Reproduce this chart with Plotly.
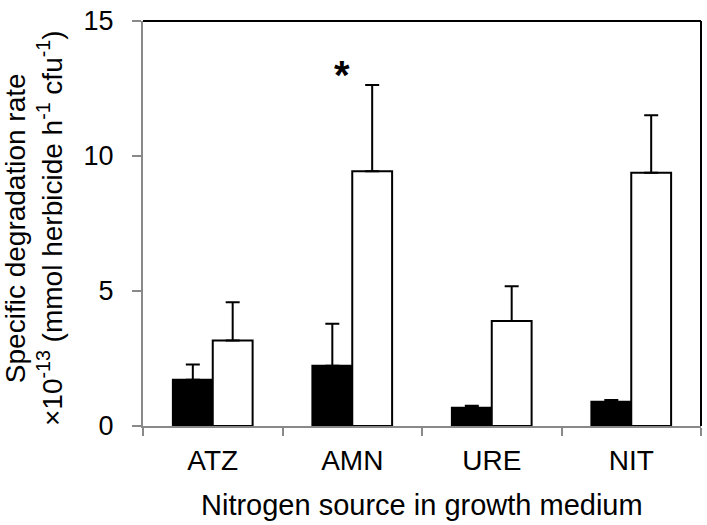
import plotly.graph_objects as go

categories = ["ATZ", "AMN", "URE", "NIT"]
black_vals = [1.71, 2.23, 0.68, 0.90]
black_err = [0.57, 1.56, 0.07, 0.06]
white_vals = [3.17, 9.44, 3.89, 9.38]
white_err = [1.41, 3.19, 1.29, 2.13]
y_ticks = [0, 5, 10, 15]

FONT = "Arial, Liberation Sans, sans-serif"
GRAY = "#898989"

fig = go.Figure()
fig.add_trace(go.Bar(
    x=categories, y=black_vals, name="black",
    marker=dict(color="black", line=dict(color="black", width=2)),
    error_y=dict(type="data", array=black_err, arrayminus=[0]*4, symmetric=False,
                 color="black", thickness=2, width=7),
))
fig.add_trace(go.Bar(
    x=categories, y=white_vals, name="white",
    marker=dict(color="white", line=dict(color="black", width=2)),
    error_y=dict(type="data", array=white_err, arrayminus=[0]*4, symmetric=False,
                 color="black", thickness=2, width=7),
))

fig.update_layout(
    width=707, height=525,
    margin=dict(l=143, r=6, t=14, b=99),
    paper_bgcolor="white", plot_bgcolor="white",
    barmode="group", bargap=0.4286, bargroupgap=0,
    showlegend=False,
    font=dict(family=FONT, color="black"),
)
fig.update_xaxes(
    range=[-0.5, 3.5], showgrid=False, showline=True, linecolor=GRAY, linewidth=2,
    ticks="outside", tickson="boundaries", ticklen=8, tickcolor=GRAY, tickwidth=2,
    tickfont=dict(size=28, family=FONT, color="black"), ticklabelstandoff=8,
)
fig.update_yaxes(
    range=[0, 15.001], tickvals=y_ticks, showgrid=False, zeroline=False,
    showline=True, linecolor=GRAY, linewidth=2,
    ticks="outside", ticklen=9, tickcolor=GRAY, tickwidth=2,
    tickfont=dict(size=27, family=FONT, color="black"), ticklabelstandoff=13,
    ticklabeloverflow="allow",
)
# top and right frame
fig.add_shape(type="line", xref="paper", yref="paper", x0=0, x1=1, y0=1, y1=1,
              line=dict(color="black", width=2))
fig.add_shape(type="line", xref="paper", yref="paper", x0=1, x1=1, y0=0, y1=1,
              line=dict(color="black", width=2))

fig.add_annotation(
    text="Specific degradation rate<br>×10<sup>-13</sup> (mmol herbicide h<sup>-1</sup> cfu<sup>-1</sup>)",
    textangle=-90, xref="paper", yref="paper", x=-0.196, y=0.488,
    xanchor="center", yanchor="middle", showarrow=False,
    font=dict(size=28, family=FONT, color="black"),
)
fig.add_annotation(
    text="Nitrogen source in growth medium",
    xref="paper", yref="paper", x=0.5, y=-0.194,
    xanchor="center", yanchor="middle", showarrow=False,
    font=dict(size=29, family=FONT, color="black"),
)
fig.add_annotation(
    text="<b>*</b>", x="AMN", y=13.0, xshift=-10, showarrow=False,
    xanchor="center", yanchor="middle",
    font=dict(size=40, family=FONT, color="black"),
)

# remove the default page margin so the 707x525 figure fills the window exactly
fig.write_html(
    "out.html",
    config={"displayModeBar": False},
    post_script="document.body.style.margin='0';document.body.style.overflow='hidden';",
)
